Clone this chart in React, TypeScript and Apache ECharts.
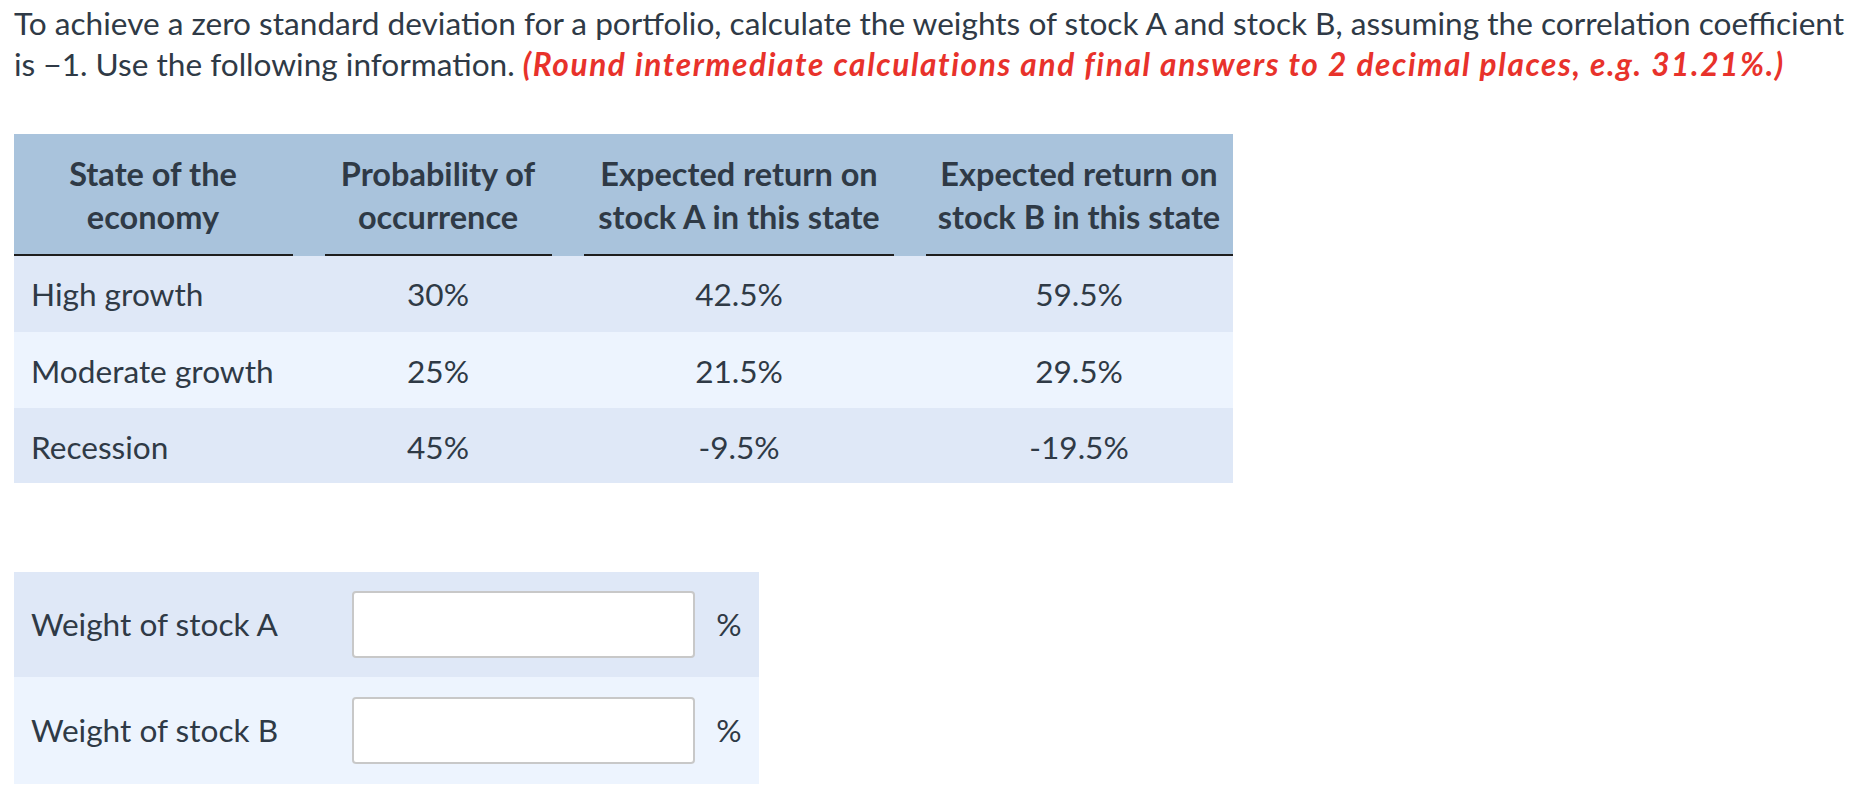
import React, { useEffect, useRef } from "react";
import * as echarts from "echarts";

const promptLine1 =
  "To achieve a zero standard deviation for a portfolio, calculate the weights of stock A and stock B, assuming the correlation coefficient";
const promptLine2a = "is \u22121. Use the following information. ";
const promptLine2b =
  "(Round intermediate calculations and final answers to 2 decimal places, e.g. 31.21%.)";

const headers = [
  ["State of the", "economy"],
  ["Probability of", "occurrence"],
  ["Expected return on", "stock A in this state"],
  ["Expected return on", "stock B in this state"],
];
const states = ["High growth", "Moderate growth", "Recession"];
const probabilities = ["30%", "25%", "45%"];
const returnsA = ["42.5%", "21.5%", "-9.5%"];
const returnsB = ["59.5%", "29.5%", "-19.5%"];
const answerLabels = ["Weight of stock A", "Weight of stock B"];
const answerUnit = "%";

const FONT = "Lato, 'Noto Sans', sans-serif";
const TEXT = "#2f3a46";
const RED = "#e8322b";
const HEAD_BG = "#a9c3dc";
const ODD = "#dfe8f7";
const EVEN = "#edf4fe";
const FS = 31.6;
const FSB = 32.5;

export default function App() {
  const ref = useRef<HTMLDivElement>(null);
  useEffect(() => {
    if (!ref.current) return;
    const chart = echarts.init(ref.current, undefined, { renderer: "svg" });
    const g: any[] = [];
    const txt = (x: number, y: number, text: string, opts: any = {}) =>
      g.push({
        type: "text",
        x,
        y,
        style: {
          text,
          fill: TEXT,
          fontFamily: FONT,
          fontSize: opts.bold ? FSB : FS,
          fontWeight: opts.bold ? "bold" : "normal",
          textAlign: opts.align || "left",
          textVerticalAlign: "middle",
        },
      });

    // prompt
    txt(14, 23, promptLine1);
    g.push({
      type: "text",
      x: 14,
      y: 64,
      style: {
        text: `{a|${promptLine2a}}{r|${promptLine2b}}`,
        textVerticalAlign: "middle",
        rich: {
          a: { fontFamily: FONT, fontSize: FS, fill: TEXT },
          r: {
            fontFamily: FONT,
            fontSize: FS,
            fill: RED,
            fontWeight: "bold",
            fontStyle: "italic",
          },
        },
      },
    });

    // table 1
    const tL = 14,
      tR = 1233;
    g.push({ type: "rect", shape: { x: tL, y: 134, width: tR - tL, height: 122 }, style: { fill: HEAD_BG } });
    const segs = [
      [14, 293],
      [325, 552],
      [584, 894],
      [926, 1233],
    ];
    segs.forEach(([a, b]) =>
      g.push({ type: "rect", shape: { x: a, y: 254, width: b - a, height: 2 }, style: { fill: "#1e1e1e" } })
    );
    const rowTops = [256, 332, 408];
    const rowBottoms = [332, 408, 483];
    rowTops.forEach((t, i) =>
      g.push({
        type: "rect",
        shape: { x: tL, y: t, width: tR - tL, height: rowBottoms[i] - t },
        style: { fill: i % 2 === 0 ? ODD : EVEN },
      })
    );
    const colCenters = [153, 438, 739, 1079];
    headers.forEach((h, i) => {
      txt(colCenters[i], 173, h[0], { bold: true, align: "center" });
      txt(colCenters[i], 216, h[1], { bold: true, align: "center" });
    });
    const rowCenters = [294, 371, 447];
    states.forEach((s, i) => {
      txt(31, rowCenters[i], s);
      txt(colCenters[1], rowCenters[i], probabilities[i], { align: "center" });
      txt(colCenters[2], rowCenters[i], returnsA[i], { align: "center" });
      txt(colCenters[3], rowCenters[i], returnsB[i], { align: "center" });
    });

    // table 2
    const t2Tops = [572, 677];
    const t2Bottoms = [677, 784];
    const boxTops = [592, 698];
    answerLabels.forEach((lab, i) => {
      g.push({
        type: "rect",
        shape: { x: 14, y: t2Tops[i], width: 745, height: t2Bottoms[i] - t2Tops[i] },
        style: { fill: i % 2 === 0 ? ODD : EVEN },
      });
      g.push({
        type: "rect",
        shape: { x: 353, y: boxTops[i], width: 341, height: 65, r: 3 },
        style: { fill: "#ffffff", stroke: "#c8c8c8", lineWidth: 2 },
      });
      const c = (t2Tops[i] + t2Bottoms[i]) / 2;
      txt(31, c - 1, lab);
      txt(729, c - 1, answerUnit, { align: "center" });
    });

    chart.setOption({ animation: false, graphic: { elements: g } });
    return () => chart.dispose();
  }, []);
  return (
    <>
      <style>{`.qchart text[fill="${RED}"], .qchart tspan[fill="${RED}"], .qchart text[fill="rgb(232,50,43)"] { letter-spacing: 1.6px; }`}</style>
      <div
        ref={ref}
        className="qchart"
        style={{ position: "fixed", left: 0, top: 0, width: 1852, height: 802, background: "#fff" }}
      />
    </>
  );
}
